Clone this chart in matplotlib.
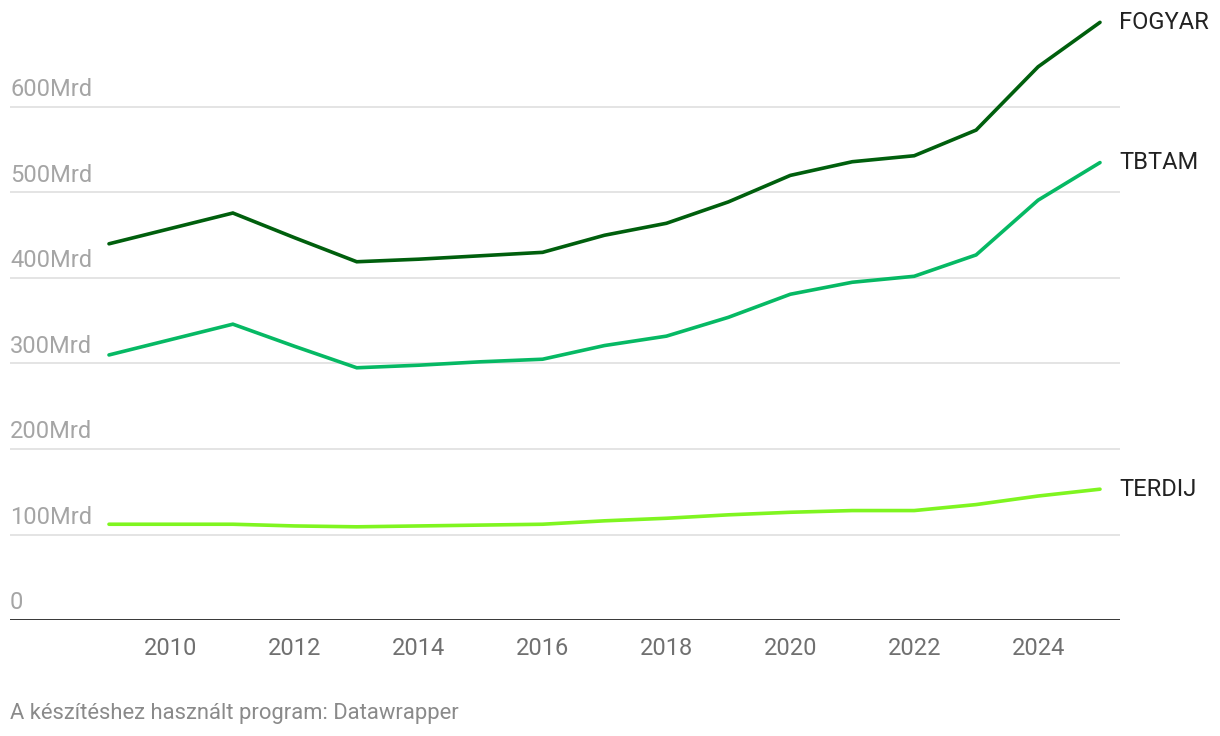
import matplotlib.pyplot as plt

plt.rcParams['font.family'] = ['Roboto', 'DejaVu Sans']

# Data (Mrd)
years = [2009, 2010, 2011, 2012, 2013, 2014, 2015, 2016, 2017, 2018, 2019, 2020, 2021, 2022, 2023, 2024, 2025]
fogyar = [440, 458, 476, 447, 419, 422, 426, 430, 450, 464, 489, 520, 536, 543, 573, 647, 699]
tbtam = [310, 328, 346, 320, 295, 298, 302, 305, 321, 332, 354, 381, 395, 402, 427, 491, 535]
terdij = [112, 112, 112, 110, 109, 110, 111, 112, 116, 119, 123, 126, 128, 128, 135, 145, 153]

series_names = ['FOGYAR', 'TBTAM', 'TERDIJ']
series_values = [fogyar, tbtam, terdij]
colors = ['#005f0d', '#06b964', '#7ff520']

y_ticks = [0, 100, 200, 300, 400, 500, 600]
y_labels = ['0', '100Mrd', '200Mrd', '300Mrd', '400Mrd', '500Mrd', '600Mrd']
x_ticks = [2010, 2012, 2014, 2016, 2018, 2020, 2022, 2024]

W, H = 1220, 736
fig = plt.figure(figsize=(W / 100, H / 100), dpi=100)
ax = fig.add_axes([10 / W, 1 - 620 / H, 1110 / W, 615.6 / H])

ax.set_xlim(2009 - 99 / 61.94, 2025 + 20 / 61.94)
ax.set_ylim(0, 720)

# gridlines
for v in y_ticks[1:]:
    ax.axhline(v, color='#e2e2e2', lw=1.3, zorder=1)
ax.axhline(0, color='#111111', lw=1.9, zorder=4)

for name, vals, c in zip(series_names, series_values, colors):
    ax.plot(years, vals, color=c, lw=2.6, solid_capstyle='round', solid_joinstyle='miter', zorder=3)
    ax.annotate(name, xy=(years[-1], vals[-1]), xytext=(14, 0), textcoords='offset points',
                va='center', ha='left', fontsize=17, color='#222222', annotation_clip=False)

for v, lab in zip(y_ticks, y_labels):
    ax.annotate(lab, xy=(0, v), xycoords=('axes fraction', 'data'), xytext=(0, 4),
                textcoords='offset points', va='bottom', ha='left', fontsize=17, color='#a5a5a5')

ax.set_xticks(x_ticks)
ax.set_xticklabels([str(x) for x in x_ticks])
ax.tick_params(axis='x', length=0, pad=12, labelsize=17, labelcolor='#707070')
ax.set_yticks([])
for s in ax.spines.values():
    s.set_visible(False)

fig.text(10 / W, 1 - 713 / H, 'A készítéshez használt program: Datawrapper',
         va='center', ha='left', fontsize=15.8, color='#8a8a8a')

fig.savefig('out.png', dpi=100)
